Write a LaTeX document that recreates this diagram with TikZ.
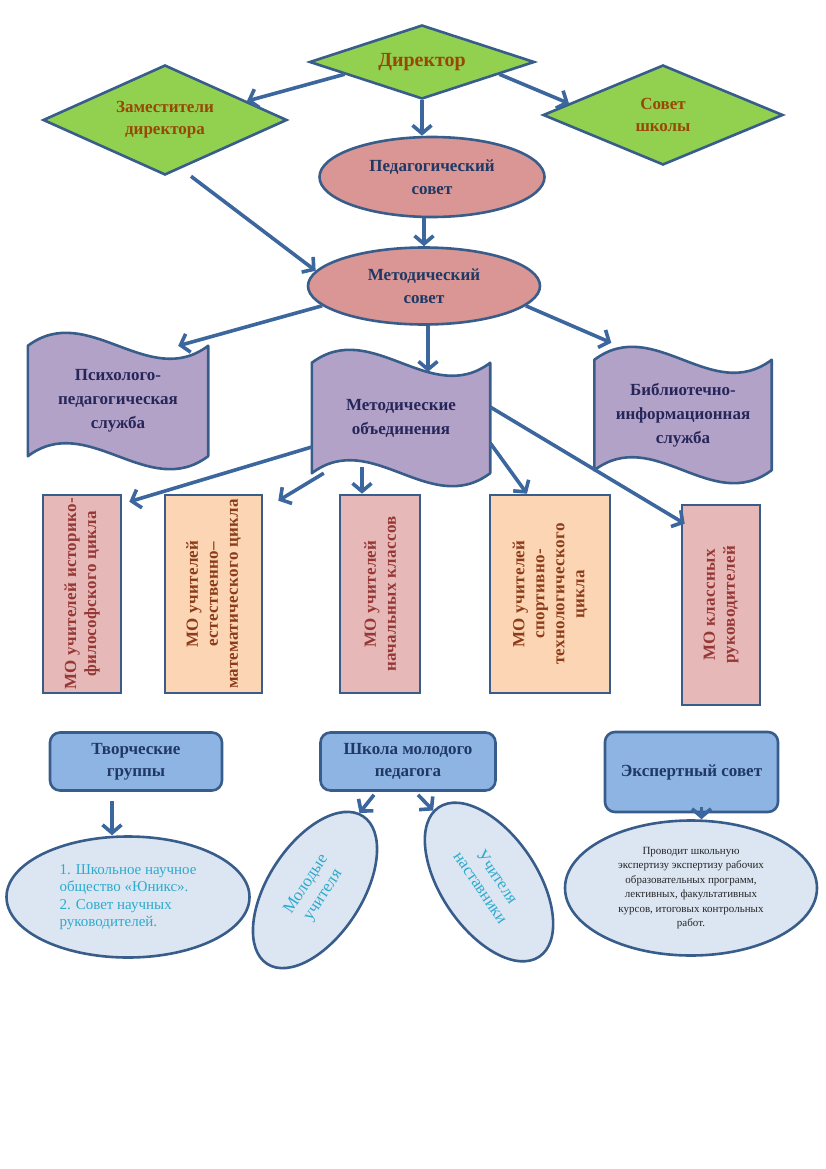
\documentclass[tikz,border=0pt]{standalone}
\usepackage{fontspec}
\setmainfont{Liberation Serif}
\usetikzlibrary{shapes.geometric,arrows.meta,backgrounds}

\definecolor{edgecol}{RGB}{60,102,158}
\definecolor{linecol}{RGB}{56,93,138}
\definecolor{greencol}{RGB}{146,208,80}
\definecolor{browncol}{RGB}{152,72,6}
\definecolor{pinkcol}{RGB}{217,150,148}
\definecolor{navycol}{RGB}{31,56,100}
\definecolor{wavecol}{RGB}{179,162,199}
\definecolor{wavetext}{RGB}{38,38,90}
\definecolor{rosecol}{RGB}{230,185,184}
\definecolor{peachcol}{RGB}{252,213,181}
\definecolor{redtext}{RGB}{149,55,53}
\definecolor{peachtext}{RGB}{140,60,25}
\definecolor{bluecol}{RGB}{142,180,227}
\definecolor{palecol}{RGB}{220,230,242}
\definecolor{cyantext}{RGB}{45,170,205}

\tikzset{
  arr/.style={draw=edgecol, line width=3.6pt, -{Straight Barb[length=8pt,width=19pt]}},
  chief/.style={diamond, aspect=3, inner sep=0pt, draw=linecol, line width=2.6pt, fill=greencol,
    text=browncol, align=center, font=\bfseries\fontsize{17}{22}\selectfont},
  council/.style={ellipse, inner sep=0pt, draw=linecol, line width=2.6pt, fill=pinkcol,
    text=navycol, align=center, font=\bfseries\fontsize{17}{23}\selectfont},
  service/.style={rectangle, inner sep=0pt, minimum width=180pt, minimum height=110pt,
    text=wavetext, align=center, font=\bfseries\fontsize{17}{24}\selectfont},
  mobox/.style={rectangle, inner sep=0pt, draw=linecol, line width=2.6pt, minimum height=198pt,
    font=\bfseries\fontsize{17}{20}\selectfont\addfontfeatures{LetterSpace=2}},
  teambox/.style={rectangle, rounded corners=10pt, inner sep=0pt, draw=linecol, line width=2.6pt,
    fill=bluecol, text=navycol, align=center, font=\bfseries\fontsize{17}{22}\selectfont},
  oval/.style={ellipse, inner sep=0pt, draw=linecol, line width=2.6pt, fill=palecol,
    text=cyantext, align=center, font=\fontsize{15}{17.5}\selectfont},
}

% wavy banner drawn round a named node
\newcommand\wavebox[1]{\filldraw[fill=wavecol, draw=linecol, line width=2.6pt, line join=round]
  (#1.north west) .. controls ([xshift=60pt,yshift=45pt]#1.north west) and ([xshift=-60pt,yshift=-45pt]#1.north east) .. (#1.north east)
  -- (#1.south east) .. controls ([xshift=-60pt,yshift=-45pt]#1.south east) and ([xshift=60pt,yshift=45pt]#1.south west) .. (#1.south west)
  -- cycle;}
\newcommand\uptext[2]{\rotatebox{90}{\parbox{#1}{\centering #2}}}

\begin{document}
\begin{tikzpicture}[x=1pt,y=-1pt]
  \useasboundingbox (0,0) rectangle (826,1169);
  % Node: dir
  \node[chief, minimum width=225pt, minimum height=74pt, font=\bfseries\fontsize{20}{24}\selectfont] (dir) at (422,62) {Директор};
  % Node: dep
  \node[chief, minimum width=244pt, minimum height=110pt] (dep) at (165,120) {Заместители\\директора};
  % Node: board
  \node[chief, minimum width=240pt, minimum height=100pt] (board) at (663,115) {Совет\\школы};
  % Node: ped
  \node[council, minimum width=225pt, minimum height=80pt] (ped) at (432,177) {Педагогический\\совет};
  % Node: met
  \node[council, minimum width=232pt, minimum height=77pt] (met) at (424,286) {Методический\\совет};
  % Node: psy
  \node[service] (psy) at (118,401) {Психолого-\\педагогическая\\служба};
  % Node: mo
  \node[service, minimum width=178pt] (mo) at (401,418) {Методические\\объединения};
  % Node: lib
  \node[service, minimum width=177pt] (lib) at (683,415) {Библиотечно-\\информационная\\служба};
  \begin{scope}[on background layer]
    \wavebox{psy}
    \wavebox{mo}
    \wavebox{lib}
  \end{scope}
  % Node: mo1
  \node[mobox, minimum width=78pt, fill=rosecol, text=redtext] (mo1) at (82,594)
    {\uptext{194pt}{МО учителей историко-\\философского цикла}};
  % Node: mo2
  \node[mobox, minimum width=97pt, fill=peachcol, text=peachtext] (mo2) at (213.5,594)
    {\uptext{194pt}{МО учителей\\естественно–\\математического цикла}};
  % Node: mo3
  \node[mobox, minimum width=80pt, fill=rosecol, text=redtext] (mo3) at (380,594)
    {\uptext{194pt}{МО учителей\\начальных классов}};
  % Node: mo4
  \node[mobox, minimum width=120pt, fill=peachcol, text=peachtext] (mo4) at (550,594)
    {\uptext{194pt}{МО учителей\\спортивно-\\технологического\\цикла}};
  % Node: mo5
  \node[mobox, minimum width=78pt, minimum height=200pt, fill=rosecol, text=redtext] (mo5) at (721,605)
    {\uptext{194pt}{МО классных\\руководителей}};
  % Node: grp
  \node[teambox, minimum width=172pt, minimum height=58pt] (grp) at (136,761.5) {Творческие\\группы};
  % Node: young
  \node[teambox, minimum width=175pt, minimum height=58pt] (young) at (408,761.5) {Школа молодого\\педагога};
  % Node: exp
  \node[teambox, minimum width=173pt, minimum height=80pt] (exp) at (691.5,772) {Экспертный совет};
  % Node: sci
  \node[oval, minimum width=243pt, minimum height=121pt, align=left] (sci) at (128,897)
    {1. Школьное научное\\общество «Юникс».\\2. Совет научных\\руководителей.};
  % Node: yt
  \node[oval, minimum width=176pt, minimum height=94pt, rotate=57, font=\fontsize{17}{20}\selectfont] (yt) at (315,890)
    {Молодые\\учителя};
  % Node: mt
  \node[oval, minimum width=180pt, minimum height=96pt, rotate=-56, font=\fontsize{17}{20}\selectfont] (mt) at (489,882)
    {Учителя\\наставники};
  % Node: expell
  \node[oval, minimum width=252pt, minimum height=135pt, text=black!85, font=\fontsize{11}{14.5}\selectfont] (expell) at (691,888)
    {Проводит школьную\\экспертизу экспертизу рабочих\\образовательных программ,\\лективных, факультативных\\курсов, итоговых контрольных\\работ.};
  % Edge: dir -> dep
  \draw[arr] (dir.189) -- (dep.13);
  % Edge: dir -> board
  \draw[arr] (dir.351) -- (board.173);
  % Edge: dir -> ped
  \draw[arr] (dir.south) -- (dir.south |- ped.north);
  % Edge: ped -> met
  \draw[arr] (met.north |- ped.south) -- (met.north);
  % Edge: dep -> met
  \draw[arr] ([xshift=26pt]dep.south) -- (met.172);
  % Edge: met -> psy
  \draw[arr] (met.191) -- ([xshift=-30pt]psy.north east);
  % Edge: met -> mo
  \draw[arr] ([xshift=4pt]met.south) -- ([xshift=4pt,yshift=-9pt]met.south |- mo.north);
  % Edge: met -> lib
  \draw[arr] (met.349) -- ([xshift=17pt,yshift=17pt]lib.north west);
  % Edge: mo -> mo1
  \draw[arr] ([yshift=-29pt]mo.west) -- ([xshift=7pt,yshift=-8pt]mo1.north east);
  % Edge: mo -> mo2
  \draw[arr] ([xshift=12pt]mo.south west) -- ([xshift=15pt,yshift=-7pt]mo2.north east);
  % Edge: mo -> mo3
  \draw[arr] ([xshift=-18pt,yshift=6pt]mo3.north |- mo.south) -- ([xshift=-18pt]mo3.north);
  % Edge: mo -> mo4
  \draw[arr] ([yshift=-25pt]mo.east) -- ([xshift=-23pt]mo4.north);
  % Edge: mo -> mo5
  \draw[arr] ([yshift=11pt]mo.east) -- ([xshift=4pt,yshift=-20pt]mo5.north west);
  % Edge: grp -> sci
  \draw[arr] ([xshift=-24pt,yshift=-9pt]grp.south) -- ([xshift=-24pt]grp.south |- sci.north);
  % Edge: young -> yt
  \draw[arr] ([xshift=-34pt,yshift=-3pt]young.south) -- (yt.3);
  % Edge: young -> mt
  \draw[arr] ([xshift=10pt,yshift=-3pt]young.south) -- (mt.184);
  % Edge: exp -> expell
  \draw[arr] ([xshift=10pt,yshift=6pt]exp.south) -- ([xshift=10pt]exp.south |- expell.north);
\end{tikzpicture}
\end{document}
